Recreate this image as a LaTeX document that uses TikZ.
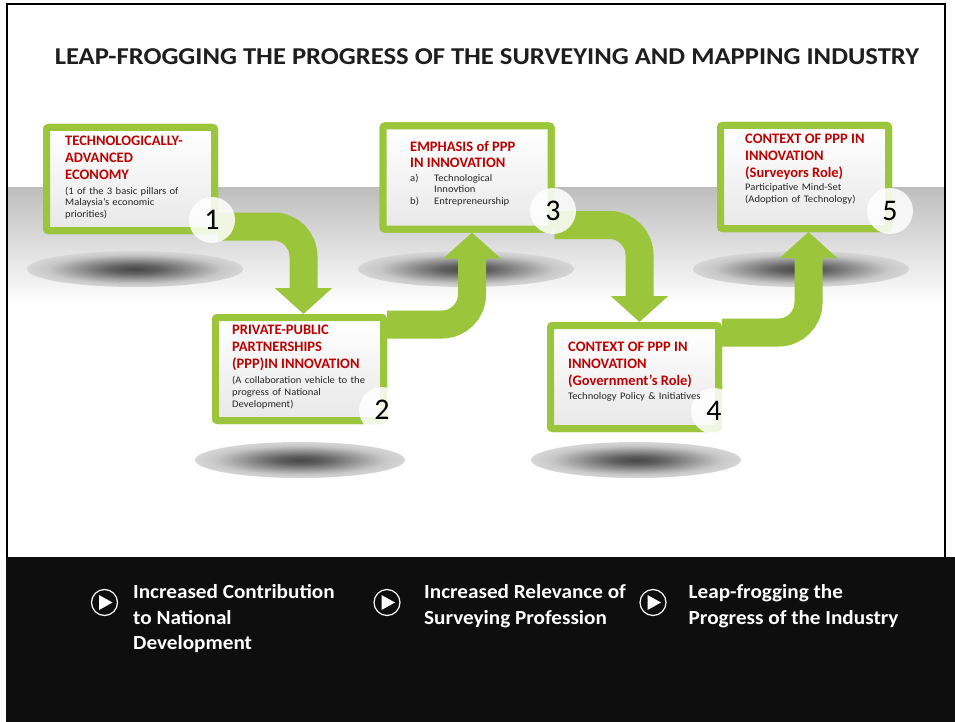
\documentclass[tikz,border=0pt]{standalone}
\usepackage{fontspec}
\setmainfont{Carlito}
\newfontfamily\titlefam[FakeStretch=1.1]{Carlito}
\newfontfamily\barfam[FakeStretch=1.06]{Carlito}
\newfontfamily\bodyfam[FakeStretch=1.06]{Carlito}
\usetikzlibrary{arrows.meta}
\definecolor{lgreen}{RGB}{155,197,58}
\definecolor{boxred}{RGB}{192,0,0}
\definecolor{bodytext}{RGB}{38,38,38}
\definecolor{barblack}{RGB}{14,14,14}
\definecolor{bandgray}{RGB}{190,190,190}
\definecolor{titlegray}{RGB}{30,30,30}
\pgfdeclareradialshading{shadowsh}{\pgfpoint{0bp}{0bp}}{color(0bp)=(black!72); color(6bp)=(black!62); color(20bp)=(black!22); color(33bp)=(white!93!black); color(50bp)=(white)}
\newcommand\ttlf{\fontsize{14.5}{16.7}\selectfont\bfseries\color{boxred}}
\newcommand\bdyf{\bodyfam\fontsize{10}{11.7}\selectfont\color{bodytext}}
\tikzset{
  stepbox/.style={rectangle, draw=lgreen, line width=7pt, rounded corners=2pt,
    minimum width=168pt, minimum height=103pt, inner sep=0pt,
    top color=white, bottom color=black!9},
  boxtext/.style={anchor=north west, inner sep=0pt, text width=165pt, font=\raggedright},
  flow/.style={draw=lgreen, line width=28pt, rounded corners=30pt,
    -{Triangle[width=56pt,length=26pt]}},
  numdisc/.style={circle, minimum size=46pt, inner sep=0pt, fill=white, fill opacity=0.85},
  numlabel/.style={inner sep=0pt, font=\fontsize{30}{30}\selectfont, text=black},
  floorshadow/.style={shading=shadowsh},
  playdisc/.style={circle, draw=white, line width=1.2pt, minimum size=26pt, inner sep=0pt},
  bartext/.style={anchor=north west, inner sep=0pt, text=white, align=left,
    font=\barfam\fontsize{20}{25.5}\selectfont\bfseries}
}
\begin{document}
\begin{tikzpicture}[x=1pt,y=-1pt]
\useasboundingbox (0,0) rectangle (955,722);
\fill[white] (0,0) rectangle (955,722);
% background band
\shade[top color=bandgray, bottom color=white] (8,188) rectangle (944,305);
% frame
\draw[black, line width=2pt] (7,557) -- (7,4) -- (945,4) -- (945,557);
\fill[barblack] (6,557) rectangle (955,722);
% title
\node[anchor=base, inner sep=0pt, text=titlegray, font=\titlefam\fontsize{24.2}{27}\selectfont\bfseries] (title) at (487,65)
  {LEAP-FROGGING THE PROGRESS OF THE SURVEYING AND MAPPING INDUSTRY};
% floor shadows
\shade[floorshadow] (135,269) ellipse [x radius=108, y radius=18];
\shade[floorshadow] (466,269) ellipse [x radius=108, y radius=18];
\shade[floorshadow] (801,269) ellipse [x radius=108, y radius=18];
\shade[floorshadow] (300,460) ellipse [x radius=105, y radius=18];
\shade[floorshadow] (636,460) ellipse [x radius=105, y radius=18];
% boxes (positions)
\path (130.5,179) node[stepbox] (b1) {};
\path (299.5,369) node[stepbox] (b2) {};
\path (467,177.5) node[stepbox] (b3) {};
\path (634.5,377) node[stepbox] (b4) {};
\path (804.5,177) node[stepbox] (b5) {};
% arrows
\draw[flow] ([yshift=7.5pt]b1.south east) -| ([xshift=4pt]b2.north);
\draw[flow] ([yshift=-10.5pt]b2.north east) -| ([xshift=5pt]b3.south);
\draw[flow] ([yshift=7.5pt]b3.south east) -| ([xshift=5pt]b4.north);
\draw[flow] ([yshift=-10.5pt]b4.north east) -| ([xshift=4pt]b5.south);
% redraw boxes above arrows
\path (130.5,179) node[stepbox] {};
\path (299.5,369) node[stepbox] {};
\path (467,177.5) node[stepbox] {};
\path (634.5,377) node[stepbox] {};
\path (804.5,177) node[stepbox] {};
% number discs
\node[numdisc] (d1) at (212,220) {};
\node[numdisc] (d2) at (382,410) {};
\node[numdisc] (d3) at (553,211) {};
\node[numdisc] (d4) at (714,411) {};
\node[numdisc] (d5) at (890,211) {};
% box texts
\node[boxtext] (t1) at (65,136) {{\ttlf TECHNOLOGICALLY-\\ADVANCED\\ECONOMY\par}\vspace{3.3pt}{\bdyf (1 of the 3 basic pillars of\\Malaysia’s economic\\priorities)\par}};
\node[boxtext] (t2) at (232,325) {{\ttlf PRIVATE-PUBLIC\\PARTNERSHIPS\\(PPP)IN INNOVATION\par}\vspace{3.9pt}{\bdyf (A collaboration vehicle to the\\progress of National\\Development)\par}};
\node[boxtext] (t3) at (410,141) {{\ttlf EMPHASIS of PPP\\IN INNOVATION\par}\vspace{1.6pt}{\bdyf \makebox[24pt][l]{a)}Technological\\\hspace*{24pt}Innovtion\\\makebox[24pt][l]{b)}Entrepreneurship\par}};
\node[boxtext] (t4) at (568,342) {{\ttlf CONTEXT OF PPP IN\\INNOVATION\\(Government’s Role)\par}\vspace{2.3pt}{\bdyf Technology Policy \& Initiatives\par}};
\node[boxtext] (t5) at (745,134) {{\ttlf CONTEXT OF PPP IN\\INNOVATION\\(Surveyors Role)\par}\vspace{1.6pt}{\bdyf Participative Mind-Set\\(Adoption of Technology)\par}};
% numbers
\node[numlabel] (n1) at (d1) {1};
\node[numlabel] (n2) at (d2) {2};
\node[numlabel] (n3) at (d3) {3};
\node[numlabel] (n4) at (d4) {4};
\node[numlabel] (n5) at (d5) {5};
% bottom bar
\node[playdisc] (p1) at (104.5,602.5) {};
\node[playdisc] (p2) at (387,602.5) {};
\node[playdisc] (p3) at (653,602.5) {};
\fill[white] ([shift={(-5.5pt,7.5pt)}]p1.center) -- ([shift={(-5.5pt,-7.5pt)}]p1.center) -- ([shift={(8pt,0pt)}]p1.center) -- cycle;
\fill[white] ([shift={(-5.5pt,7.5pt)}]p2.center) -- ([shift={(-5.5pt,-7.5pt)}]p2.center) -- ([shift={(8pt,0pt)}]p2.center) -- cycle;
\fill[white] ([shift={(-5.5pt,7.5pt)}]p3.center) -- ([shift={(-5.5pt,-7.5pt)}]p3.center) -- ([shift={(8pt,0pt)}]p3.center) -- cycle;
\node[bartext] (r1) at (133,584.5) {Increased Contribution\\to National\\Development};
\node[bartext] (r2) at (424,584.5) {Increased Relevance of\\Surveying Profession};
\node[bartext] (r3) at (688.5,584.5) {Leap-frogging the\\Progress of the Industry};
\end{tikzpicture}
\end{document}
